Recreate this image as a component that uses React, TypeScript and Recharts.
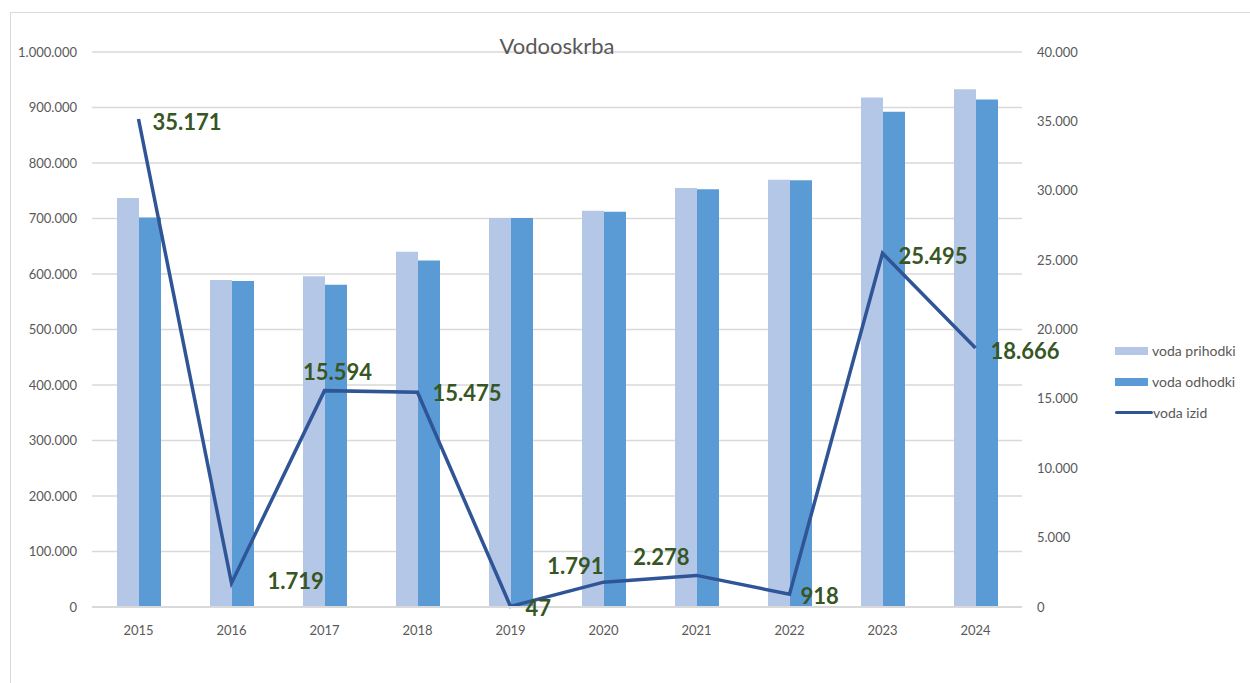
import React from "react";
import { ComposedChart, Bar, Line, XAxis, YAxis, CartesianGrid, LabelList } from "recharts";

const years = ["2015", "2016", "2017", "2018", "2019", "2020", "2021", "2022", "2023", "2024"];
const prihodki = [737000, 589000, 596000, 640000, 701000, 714000, 755000, 770000, 918000, 933000];
const odhodki = [701829, 587281, 580406, 624525, 700953, 712209, 752722, 769082, 892505, 914334];
const izid = [35171, 1719, 15594, 15475, 47, 1791, 2278, 918, 25495, 18666];
const leftTicks = [0, 100000, 200000, 300000, 400000, 500000, 600000, 700000, 800000, 900000, 1000000];
const rightTicks = [0, 5000, 10000, 15000, 20000, 25000, 30000, 35000, 40000];

const labelOffsets = [
  { dx: 14, dy: 2, anchor: "start" },
  { dx: 36, dy: -3, anchor: "start" },
  { dx: 13, dy: -19, anchor: "middle" },
  { dx: 15, dy: 0, anchor: "start" },
  { dx: 15, dy: 1, anchor: "start" },
  { dx: -28, dy: -17, anchor: "middle" },
  { dx: -35, dy: -19, anchor: "middle" },
  { dx: 11, dy: 1, anchor: "start" },
  { dx: 16, dy: 2, anchor: "start" },
  { dx: 15, dy: 2, anchor: "start" },
];

const data = years.map((y, i) => ({ year: y, prihodki: prihodki[i], odhodki: odhodki[i], izid: izid[i] }));

const fmt = (n: number) => String(Math.round(n)).replace(/\B(?=(\d{3})+(?!\d))/g, ".");

const FONT = "Lato, 'Open Sans', sans-serif";
const C_PRI = "#b4c7e7";
const C_ODH = "#5b9bd5";
const C_IZID = "#2f5597";
const C_LABEL = "#375623";

const renderLabel = (props: any) => {
  const { x, y, index, value } = props;
  const o = labelOffsets[index] || { dx: 10, dy: 0, anchor: "start" };
  return (
    <text
      x={x + o.dx}
      y={y + o.dy}
      textAnchor={o.anchor}
      dominantBaseline="central"
      fill={C_LABEL}
      fontFamily={FONT}
      fontWeight={700}
      fontSize={22}
    >
      {fmt(value)}
    </text>
  );
};

export default function App() {
  return (
    <div style={{ position: "absolute", left: 0, top: 0, width: 1250, height: 683, background: "#fff", overflow: "hidden", fontFamily: FONT }}>
      <div style={{ position: "absolute", left: 10, top: 12, width: 1245, height: 700, border: "1px solid #d9d9d9", boxSizing: "border-box" }} />
      <ComposedChart
        width={1250}
        height={683}
        data={data}
        margin={{ top: 52, right: 138, bottom: 46, left: 0 }}
        barGap={0}
      >
        <CartesianGrid vertical={false} stroke="#d9d9d9" strokeWidth={1.3} yAxisId="left" />
        <XAxis
          dataKey="year"
          tickLine={false}
          axisLine={{ stroke: "#d9d9d9", strokeWidth: 2 }}
          tick={{ fill: "#595959", fontSize: 13, fontFamily: FONT }}
          height={30}
          tickMargin={13}
        />
        <YAxis
          yAxisId="left"
          domain={[0, 1000000]}
          ticks={leftTicks}
          tickFormatter={fmt}
          tickLine={false}
          axisLine={false}
          width={92}
          interval={0}
          tick={{ fill: "#595959", fontSize: 13, fontFamily: FONT, dx: -7 }}
        />
        <YAxis
          yAxisId="right"
          orientation="right"
          domain={[0, 40000]}
          ticks={rightTicks}
          tickFormatter={fmt}
          tickLine={false}
          axisLine={false}
          width={90}
          interval={0}
          tick={{ fill: "#595959", fontSize: 13, fontFamily: FONT, dx: 7 }}
        />
        <Bar yAxisId="left" dataKey="prihodki" fill={C_PRI} barSize={22} isAnimationActive={false} />
        <Bar yAxisId="left" dataKey="odhodki" fill={C_ODH} barSize={22} isAnimationActive={false} />
        <Line
          yAxisId="right"
          dataKey="izid"
          stroke={C_IZID}
          strokeWidth={3.5}
          dot={false}
          activeDot={false}
          type="linear"
          isAnimationActive={false}
        >
          <LabelList dataKey="izid" content={renderLabel} />
        </Line>
      </ComposedChart>
      <div style={{ position: "absolute", left: 457, width: 200, top: 32, textAlign: "center", fontSize: 22, color: "#595959" }}>Vodooskrba</div>
      <div style={{ position: "absolute", left: 1115, top: 335, fontSize: 14, color: "#595959", lineHeight: "31px" }}>
        <div style={{ display: "flex", alignItems: "center" }}>
          <span style={{ display: "inline-block", width: 33, height: 8, background: C_PRI, marginRight: 4 }} />voda prihodki
        </div>
        <div style={{ display: "flex", alignItems: "center" }}>
          <span style={{ display: "inline-block", width: 33, height: 8, background: C_ODH, marginRight: 4 }} />voda odhodki
        </div>
        <div style={{ display: "flex", alignItems: "center" }}>
          <span style={{ display: "inline-block", width: 38, height: 3, background: C_IZID, marginRight: 0, borderRadius: 2 }} />voda izid
        </div>
      </div>
    </div>
  );
}
